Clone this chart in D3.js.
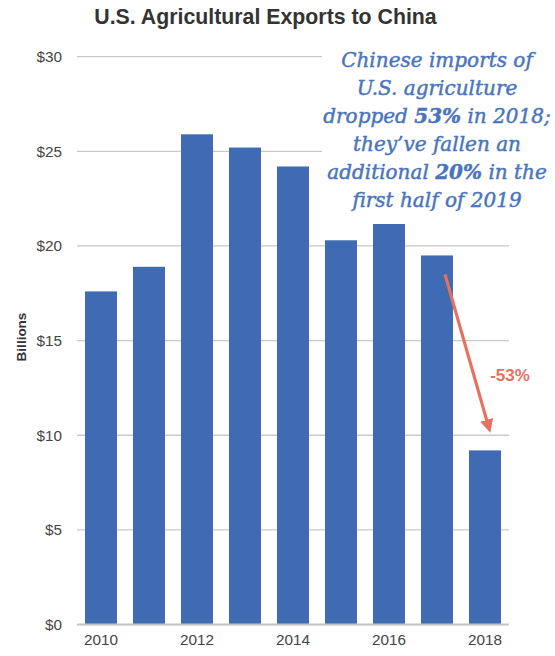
<!DOCTYPE html>
<html>
<head>
<meta charset="utf-8">
<script src="https://cdn.jsdelivr.net/npm/d3@7"></script>
<style>
  html, body { margin: 0; padding: 0; background: #fff; }
  svg { display: block; }
</style>
</head>
<body>
<svg id="chart" width="555" height="656"></svg>
<script>
// Annual U.S. agricultural exports to China, billions of dollars
const years = ["2010", "2011", "2012", "2013", "2014", "2015", "2016", "2017", "2018"];
const exportsBn = [17.6, 18.9, 25.9, 25.2, 24.2, 20.3, 21.4, 19.5, 9.2];
const yTicks = [0, 5, 10, 15, 20, 25, 30];
const xTickLabels = ["2010", "2012", "2014", "2016", "2018"];
const dropPct = "-53%";
const noteLines = [
  [{ t: "Chinese imports of" }],
  [{ t: "U.S. agriculture" }],
  [{ t: "dropped " }, { t: "53%", b: true }, { t: " in 2018;" }],
  [{ t: "they\u2019ve fallen an" }],
  [{ t: "additional " }, { t: "20%", b: true }, { t: " in the" }],
  [{ t: "first half of 2019" }]
];

const svg = d3.select("#chart");
const plotLeft = 77, plotRight = 509, plotTop = 56.7, plotBottom = 624.5;

const x = d3.scaleBand().domain(years).range([plotLeft, plotRight]).paddingInner(1 / 3).paddingOuter(1 / 6);
const y = d3.scaleLinear().domain([0, 30]).range([plotBottom, plotTop]);

// Title
svg.append("text")
  .attr("x", 265.5).attr("y", 24)
  .attr("text-anchor", "middle")
  .attr("font-family", "Liberation Sans, Arial, sans-serif")
  .attr("font-size", 21.3).attr("font-weight", "bold")
  .attr("fill", "#333")
  .text("U.S. Agricultural Exports to China");

// Gridlines
svg.append("g")
  .selectAll("line")
  .data(yTicks.filter(d => d > 0))
  .join("line")
  .attr("x1", plotLeft).attr("x2", plotRight)
  .attr("y1", d => y(d)).attr("y2", d => y(d))
  .attr("stroke", "#c9c9c9").attr("stroke-width", 1.3);

// Y axis labels
const yAxis = d3.axisLeft(y).tickValues(yTicks).tickSize(0).tickPadding(0).tickFormat(d => "$" + d);
svg.append("g")
  .attr("transform", "translate(62,0)")
  .call(yAxis)
  .call(g => g.select(".domain").remove())
  .call(g => g.selectAll("text")
    .attr("font-family", "Liberation Sans, Arial, sans-serif")
    .attr("font-size", 15.3).attr("fill", "#444"));

// Y axis title
svg.append("text")
  .attr("transform", "translate(26,337) rotate(-90)")
  .attr("text-anchor", "middle")
  .attr("font-family", "Liberation Sans, Arial, sans-serif")
  .attr("font-size", 13.5).attr("font-weight", "bold")
  .attr("fill", "#333")
  .text("Billions");

// Bars
svg.append("g")
  .selectAll("rect")
  .data(years.map((yr, i) => ({ yr, v: exportsBn[i] })))
  .join("rect")
  .attr("x", d => x(d.yr))
  .attr("width", x.bandwidth())
  .attr("y", d => y(d.v))
  .attr("height", d => y(0) - y(d.v))
  .attr("fill", "#3e6bb4");

// Baseline
svg.append("line")
  .attr("x1", plotLeft).attr("x2", plotRight)
  .attr("y1", y(0)).attr("y2", y(0))
  .attr("stroke", "#c4c4c4").attr("stroke-width", 2);

// X axis labels
const xAxis = d3.axisBottom(x).tickValues(xTickLabels).tickSize(0).tickPadding(0);
svg.append("g")
  .attr("transform", `translate(0,${y(0) + 10})`)
  .call(xAxis)
  .call(g => g.select(".domain").remove())
  .call(g => g.selectAll("text")
    .attr("font-family", "Liberation Sans, Arial, sans-serif")
    .attr("font-size", 15.3).attr("fill", "#444"));

// Callout box
svg.append("rect")
  .attr("x", 322).attr("y", 38).attr("width", 233).attr("height", 186)
  .attr("fill", "#fff");

const noteColor = "#4a74bb";
const note = svg.append("text")
  .attr("text-anchor", "middle")
  .attr("font-family", "DejaVu Serif, serif")
  .attr("font-style", "italic")
  .attr("font-size", 20)
  .attr("fill", noteColor)
  .attr("stroke", noteColor)
  .attr("stroke-width", 0.45);
noteLines.forEach((line, i) => {
  const row = note.append("tspan").attr("x", 437).attr("y", 67 + i * 28);
  line.forEach(seg => {
    row.append("tspan")
      .attr("font-weight", seg.b ? "bold" : null)
      .text(seg.t);
  });
});

// Drop arrow from the 2017 bar to the 2018 bar
const arrowColor = "#e8705f";
svg.append("defs").append("marker")
  .attr("id", "head")
  .attr("viewBox", "0 0 10 10")
  .attr("refX", 6).attr("refY", 5)
  .attr("markerWidth", 4.2).attr("markerHeight", 4.2)
  .attr("orient", "auto")
  .append("path")
  .attr("d", "M0,0 L10,5 L0,10 Z")
  .attr("fill", arrowColor);

const ax0 = x("2017") + x.bandwidth() * 0.75, ay0 = y(18.5);
const ax1 = x("2018") + x.bandwidth() * 0.62, ay1 = y(10.4);
svg.append("line")
  .attr("x1", ax0).attr("y1", ay0)
  .attr("x2", ax1).attr("y2", ay1)
  .attr("stroke", arrowColor).attr("stroke-width", 3.2)
  .attr("marker-end", "url(#head)");

svg.append("text")
  .attr("x", 510).attr("y", 381)
  .attr("text-anchor", "middle")
  .attr("font-family", "Liberation Sans, Arial, sans-serif")
  .attr("font-size", 17).attr("font-weight", "bold")
  .attr("fill", arrowColor)
  .text(dropPct);
</script>
</body>
</html>
